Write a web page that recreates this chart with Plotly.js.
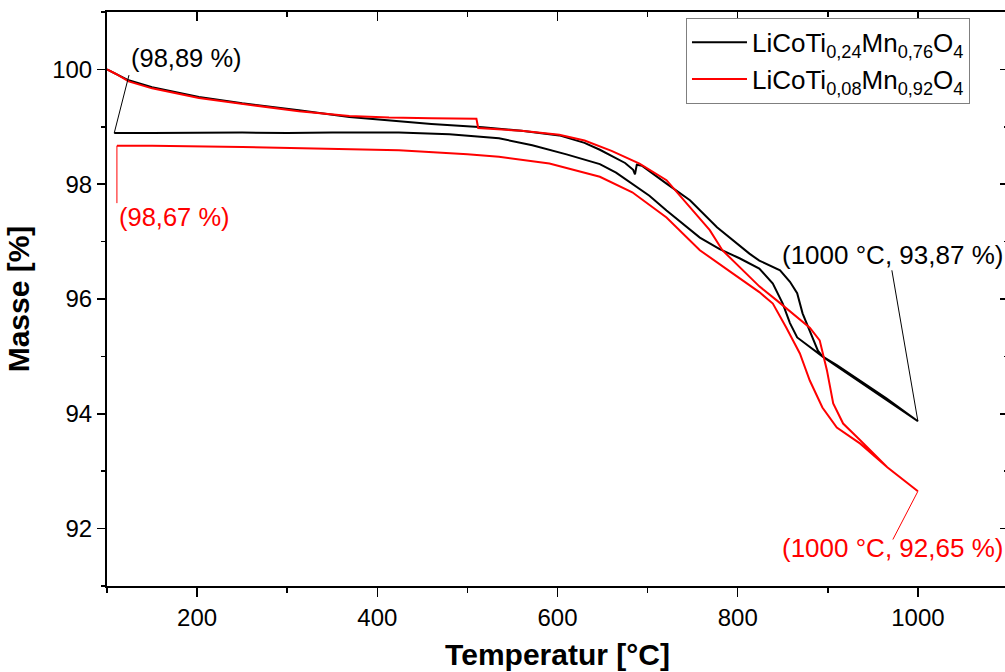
<!DOCTYPE html>
<html>
<head>
<meta charset="utf-8">
<script src="https://cdn.plot.ly/plotly-3.0.1.min.js"></script>
<style>
html,body{margin:0;padding:0;overflow:hidden;background:#fff;}
#chart{width:1010px;height:672px;}
</style>
</head>
<body>
<div id="chart"></div>
<script>
// ---- data ----
const seriesNames = ['LiCoTi<sub>0,24</sub>Mn<sub>0,76</sub>O<sub>4</sub>', 'LiCoTi<sub>0,08</sub>Mn<sub>0,92</sub>O<sub>4</sub>'];

const blackHeatT = [100,110,124,150,202,250,313,369,413,460,517,560,602,630,647,665,675,684,686,688,694,721,747,777,813,824,847,858,866,872,880,889,894,910,935,965,1000];
const blackHeatM = [100.0,99.92,99.81,99.69,99.52,99.41,99.29,99.17,99.11,99.05,98.99,98.93,98.85,98.72,98.6,98.46,98.37,98.25,98.17,98.34,98.32,98.01,97.72,97.25,96.79,96.67,96.5,96.3,96.1,95.75,95.45,95.1,95.0,94.83,94.57,94.24,93.87];
const blackCoolT = [1000,965,935,910,894,880,866,858,850,839,824,802,780,758,740,721,702,683,665,647,610,572,535,480,424,350,300,250,200,150,108];
const blackCoolM = [93.87,94.27,94.59,94.85,95.0,95.16,95.33,95.58,95.92,96.27,96.53,96.71,96.87,97.07,97.3,97.54,97.8,98.01,98.2,98.35,98.52,98.68,98.8,98.87,98.9,98.9,98.89,98.9,98.89,98.89,98.89];

const redHeatT = [100,110,124,150,202,250,313,369,413,460,510,512,530,560,602,630,660,691,721,743,769,783,802,824,843,861,880,891,899,906,917,936,966,1000];
const redHeatM = [100.0,99.92,99.79,99.67,99.5,99.4,99.27,99.19,99.16,99.15,99.14,98.98,98.96,98.93,98.86,98.76,98.58,98.36,98.07,97.67,97.2,96.85,96.55,96.22,95.98,95.75,95.5,95.28,94.76,94.18,93.83,93.54,93.07,92.65];
const redCoolT = [1000,966,936,910,894,880,869,854,839,824,794,758,721,683,647,591,535,500,424,350,250,150,111];
const redCoolM = [92.65,93.07,93.48,93.76,94.11,94.58,95.05,95.5,95.92,96.12,96.45,96.85,97.42,97.86,98.13,98.36,98.48,98.52,98.59,98.62,98.65,98.67,98.67];

const xTickVals = [200,400,600,800,1000];
const yTickVals = [92,94,96,98,100];

const labelStartBlack = '(98,89 %)';
const labelStartRed = '(98,67 %)';
const labelEndBlack = '(1000 °C, 93,87 %)';
const labelEndRed = '(1000 °C, 92,65 %)';

// ---- chart ----
const BLACK = '#000000', RED = '#ff0000';
const FONT = 'Arial, "Liberation Sans", sans-serif';

const traces = [
  {x: blackHeatT.concat(blackCoolT), y: blackHeatM.concat(blackCoolM), mode:'lines', name: seriesNames[0],
   line:{color:BLACK, width:2}},
  {x: redHeatT.concat(redCoolT), y: redHeatM.concat(redCoolM), mode:'lines', name: seriesNames[1],
   line:{color:RED, width:2}},
  {x: [], y: [], xaxis:'x2', yaxis:'y2', showlegend:false, hoverinfo:'skip'}
];

const bS = [blackCoolT[blackCoolT.length-1], blackCoolM[blackCoolM.length-1]];
const rS = [redCoolT[redCoolT.length-1], redCoolM[redCoolM.length-1]];
const bE = [blackHeatT[blackHeatT.length-1], blackHeatM[blackHeatM.length-1]];
const rE = [redHeatT[redHeatT.length-1], redHeatM[redHeatM.length-1]];

const shapes = [
  {type:'line', xref:'x', yref:'y', x0:bS[0], y0:bS[1], x1:124.4, y1:99.9, line:{color:BLACK, width:1}},
  {type:'line', xref:'x', yref:'y', x0:rS[0], y0:rS[1], x1:rS[0], y1:97.67, line:{color:RED, width:1}},
  {type:'line', xref:'x', yref:'y', x0:bE[0], y0:bE[1], x1:971.1, y1:96.5, line:{color:BLACK, width:1}},
  {type:'line', xref:'x', yref:'y', x0:rE[0], y0:rE[1], x1:972.2, y1:91.81, line:{color:RED, width:1}}
];

const annFont = (c, s) => ({family:FONT, size:s, color:c});
const annotations = [
  {xref:'x', yref:'y', x:188.5, y:100.19, text:labelStartBlack, showarrow:false, font:annFont(BLACK, 25.5)},
  {xref:'x', yref:'y', x:175, y:97.42, text:labelStartRed, showarrow:false, font:annFont(RED, 25.5)},
  {xref:'x', yref:'y', x:972.2, y:96.76, text:labelEndBlack, showarrow:false, font:annFont(BLACK, 26)},
  {xref:'x', yref:'y', x:972.2, y:91.67, text:labelEndRed, showarrow:false, font:annFont(RED, 26)}
];

const axCommon = {showgrid:false, zeroline:false, showline:true, linecolor:BLACK, linewidth:2,
  tickcolor:BLACK, tickwidth:1.5};

const layout = {
  width:1010, height:672,
  margin:{l:107, r:2, t:12, b:86},
  paper_bgcolor:'#fff', plot_bgcolor:'#fff',
  font:{family:FONT, color:BLACK},
  showlegend:true,
  legend:{x:0.6426, y:0.99, xanchor:'left', yanchor:'top', bordercolor:'#7f7f7f', borderwidth:1,
    bgcolor:'#fff', font:{family:FONT, size:26, color:BLACK}, tracegroupgap:0, itemwidth:55},
  xaxis: Object.assign({}, axCommon, {range:[100,1100], tickmode:'array', tickvals:xTickVals,
    ticks:'outside', ticklen:9, tickfont:{size:24, family:FONT},
    minor:{tick0:0, dtick:100, ticks:'outside', ticklen:5, tickwidth:1.5, tickcolor:BLACK},
    title:{text:'<b>Temperatur [°C]</b>', font:{size:30, family:FONT}, standoff:14}}),
  yaxis: Object.assign({}, axCommon, {range:[91,101], tickmode:'array', tickvals:yTickVals,
    ticks:'outside', ticklen:8, tickfont:{size:24, family:FONT},
    minor:{tick0:0, dtick:1, ticks:'outside', ticklen:4, tickwidth:1.5, tickcolor:BLACK},
    title:{text:'<b>Masse [%]</b>', font:{size:30, family:FONT}, standoff:14}}),
  xaxis2: Object.assign({}, axCommon, {overlaying:'x', side:'top', range:[100,1100], tickmode:'array', tickvals:xTickVals,
    ticks:'inside', ticklen:9, showticklabels:false,
    minor:{tick0:0, dtick:100, ticks:'inside', ticklen:5, tickwidth:1.5, tickcolor:BLACK}}),
  yaxis2: Object.assign({}, axCommon, {overlaying:'y', side:'right', range:[91,101], tickmode:'array', tickvals:yTickVals,
    ticks:'inside', ticklen:8, showticklabels:false,
    minor:{tick0:0, dtick:1, ticks:'inside', ticklen:4, tickwidth:1.5, tickcolor:BLACK}}),
  shapes: shapes,
  annotations: annotations
};

Plotly.newPlot('chart', traces, layout, {displayModeBar:false, staticPlot:true});
</script>
</body>
</html>
